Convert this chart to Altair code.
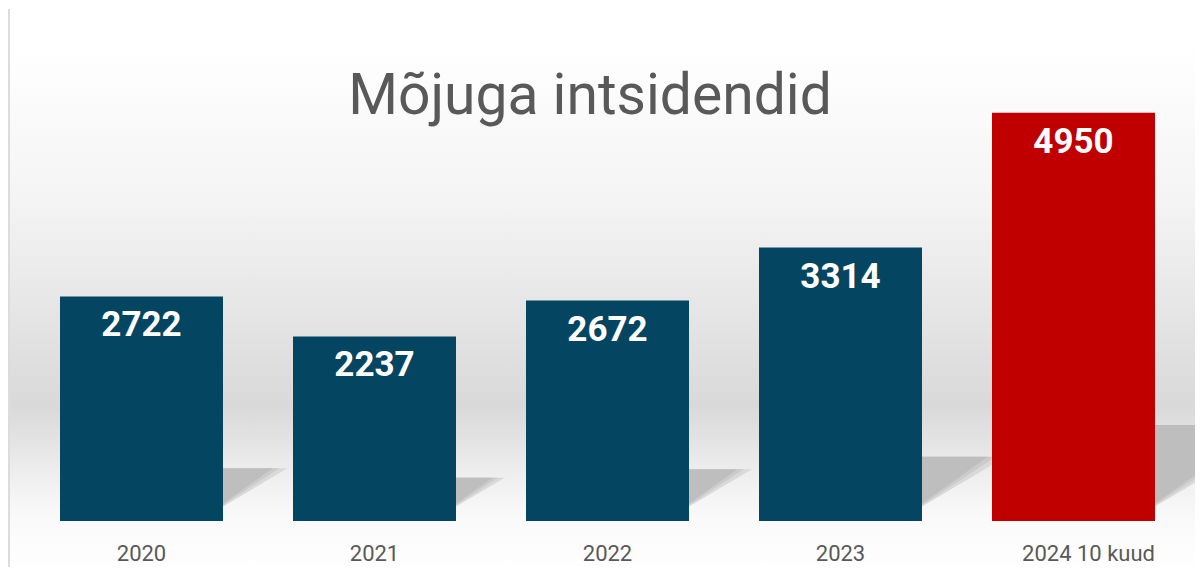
import altair as alt
import pandas as pd

# ---- data ----
categories = ["2020", "2021", "2022", "2023", "2024 10 kuud"]
values = [2722, 2237, 2672, 3314, 4950]
title_text = "Mõjuga intsidendid"

# ---- style / layout constants ----
BLUE = "#044562"
RED = "#C00000"
GREY_TEXT = "#595959"
W, H = 1165, 495
YMAX = 6000
PX_PER_UNIT = H / YMAX
SHADOW_RISE = 0.235      # shadow top as share of bar height
SHADOW_RUN = 0.33        # horizontal reach relative to bar height


def tri_path(stretch):
    r = SHADOW_RISE / (SHADOW_RUN * stretch) * 2
    return f"M 0 0 L 0 -{r:.4f} L 2 -{r:.4f} Z"


bars_df = pd.DataFrame({"cat": categories, "value": values})
shadow_df = pd.DataFrame({
    "cat": categories,
    "base": [0] * len(values),
    "run": [SHADOW_RUN * v * PX_PER_UNIT for v in values],
})

yscale = alt.Scale(domain=[0, YMAX], nice=False, zero=True)
xscale = alt.Scale(paddingInner=0.3, paddingOuter=0.15)
xaxis = alt.Axis(
    title=None, domain=False, ticks=False, tickSize=0, grid=False, zindex=2,
    labelAngle=0, labelFont="Roboto", labelFontSize=22, labelColor=GREY_TEXT,
    labelPadding=22, labelBaseline="top",
    labelOffset={"condition": {"test": "datum.value == '2024 10 kuud'", "value": 15}, "value": 0},
)

bg_grad = alt.Gradient(
    gradient="linear", x1=0, y1=0, x2=0, y2=1,
    stops=[
        alt.GradientStop(offset=0.0, color="#ffffff"),
        alt.GradientStop(offset=0.295, color="#f4f4f4"),
        alt.GradientStop(offset=0.542, color="#e3e3e3"),
        alt.GradientStop(offset=0.684, color="#d9d9d9"),
        alt.GradientStop(offset=0.751, color="#e3e3e3"),
        alt.GradientStop(offset=0.808, color="#ededed"),
        alt.GradientStop(offset=0.865, color="#f5f5f5"),
        alt.GradientStop(offset=0.905, color="#fafafa"),
        alt.GradientStop(offset=1.0, color="#ffffff"),
    ],
)

background = alt.Chart(alt.Data(values=[{"k": 1}])).mark_rect(color=bg_grad).encode(
    x=alt.value(-16), x2=alt.value(W + 12), y=alt.value(19), y2=alt.value(H + 50)
)

edge_line = alt.Chart(alt.Data(values=[{"k": 1}])).mark_rule(
    color="#dcdcdc", strokeWidth=2
).encode(x=alt.value(-16), y=alt.value(-17), y2=alt.value(H + 60))


def shadow_layer(stretch, color):
    return alt.Chart(shadow_df).transform_calculate(
        sz=f"pow(datum.run * {stretch}, 2)"
    ).mark_point(
        shape=tri_path(stretch), filled=True, color=color, strokeWidth=0, opacity=1
    ).encode(
        x=alt.X("cat:N", sort=categories, scale=xscale, bandPosition=0.85, axis=xaxis),
        y=alt.Y("base:Q", scale=yscale, axis=None),
        size=alt.Size("sz:Q", scale=None, legend=None),
    )


shadow_soft = shadow_layer(1.2, "#d9d9d9")
shadow_mid = shadow_layer(1.09, "#cbcbcb")
shadow_core = shadow_layer(1.0, "#bebebe")

bars = alt.Chart(bars_df).mark_bar(size=163).encode(
    x=alt.X("cat:N", sort=categories, scale=xscale, axis=xaxis),
    y=alt.Y("value:Q", scale=yscale, axis=None),
    color=alt.Color("cat:N", scale=alt.Scale(domain=categories, range=[BLUE] * 4 + [RED]), legend=None),
)

labels = alt.Chart(bars_df).mark_text(
    color="white", font="Roboto", fontSize=35, fontWeight="bold",
    baseline="alphabetic", align="center", dy=40,
).encode(
    x=alt.X("cat:N", sort=categories, scale=xscale, axis=xaxis),
    y=alt.Y("value:Q", scale=yscale, axis=None),
    text="value:Q",
)

title = alt.Chart(alt.Data(values=[{"t": title_text}])).mark_text(
    font="Roboto", fontSize=57, color=GREY_TEXT, align="center", baseline="alphabetic"
).encode(x=alt.value(565), y=alt.value(88), text="t:N")

chart = alt.layer(
    background, edge_line, shadow_soft, shadow_mid, shadow_core, bars, labels, title
).properties(
    width=W, height=H,
    autosize=alt.AutoSizeParams(type="none"),
    padding={"left": 17, "top": 18, "right": 5, "bottom": 46},
).configure_view(stroke=None)

chart.save("out.html", embed_options={"renderer": "svg", "actions": False})
